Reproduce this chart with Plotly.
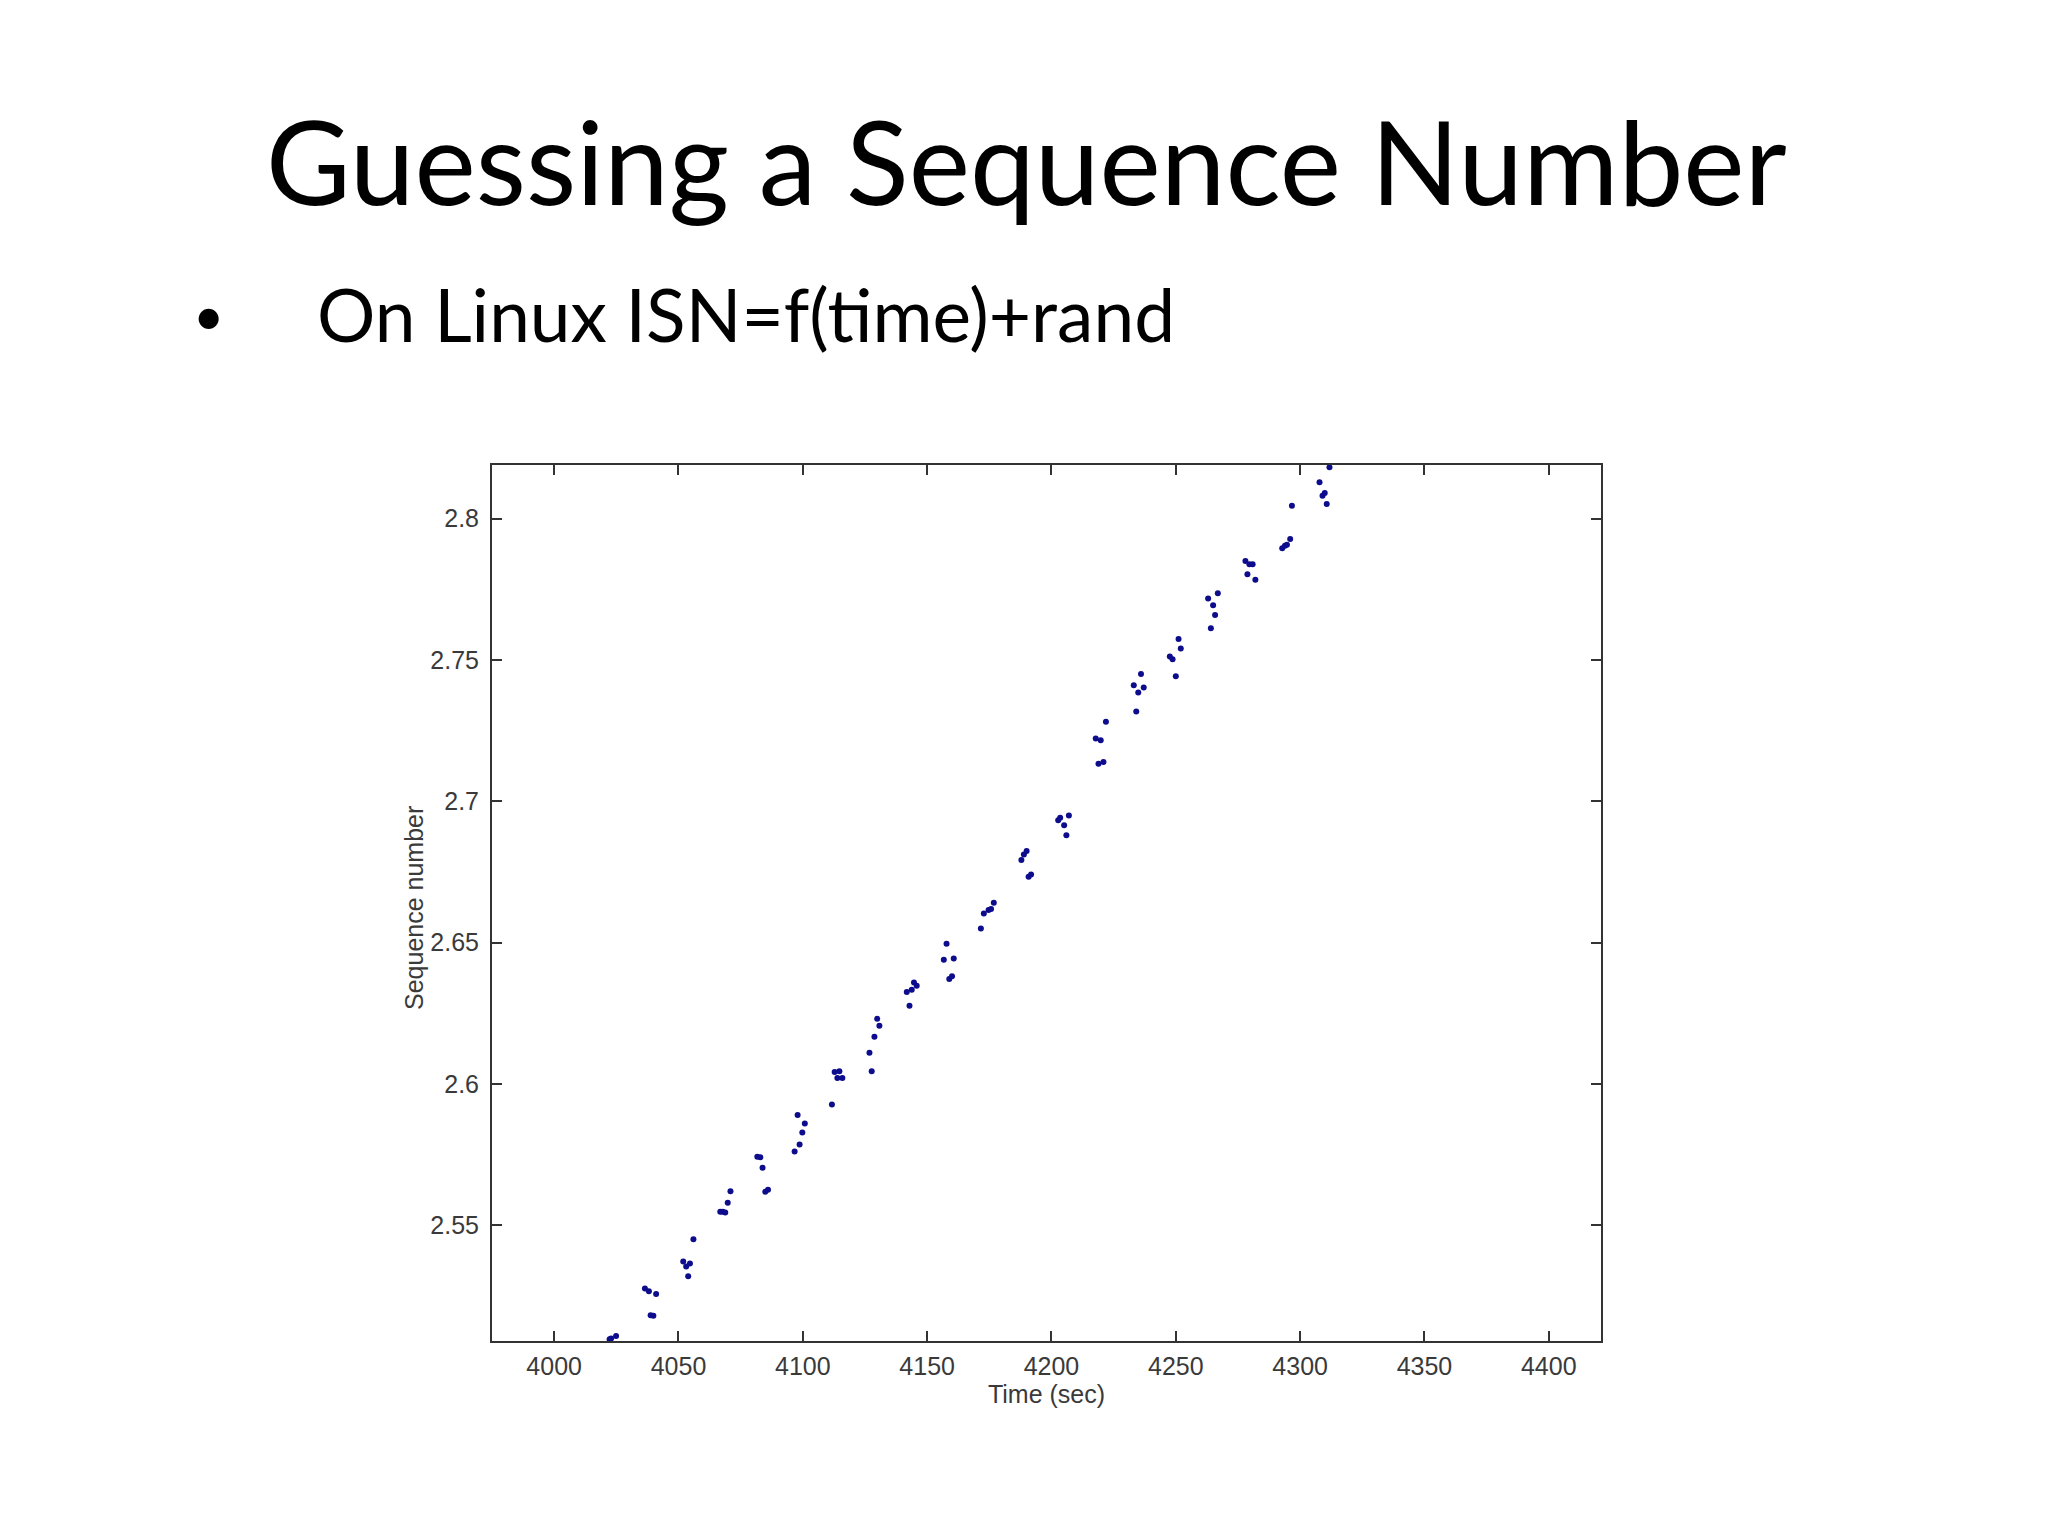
import plotly.graph_objects as go

time_sec = [4022.3, 4022.9, 4024.9,
            4036.5, 4038.1, 4041.0, 4038.8, 4039.9,
            4051.9, 4053.1, 4054.6, 4053.9, 4056.0,
            4066.8, 4067.8, 4068.8, 4069.8, 4070.9,
            4081.7, 4082.9, 4083.8, 4084.9, 4086.0,
            4096.7, 4098.7, 4099.8, 4100.8, 4097.9,
            4111.7, 4112.8, 4114.7, 4113.9, 4115.9,
            4126.8, 4127.7, 4128.8, 4129.9, 4130.8,
            4141.8, 4142.9, 4143.8, 4144.7, 4145.8,
            4156.7, 4157.8, 4160.7, 4158.9, 4160.0,
            4171.6, 4172.8, 4174.7, 4175.7, 4176.8,
            4187.9, 4188.9, 4190.0, 4190.8, 4191.8,
            4202.7, 4203.5, 4205.1, 4207.0, 4206.0,
            4217.8, 4219.8, 4221.9, 4218.9, 4220.9,
            4233.1, 4234.1, 4234.9, 4236.0, 4237.1,
            4247.6, 4248.7, 4250.0, 4251.1, 4252.0,
            4263.0, 4264.1, 4265.0, 4265.8, 4266.9,
            4278.0, 4279.6, 4280.9, 4278.8, 4282.0,
            4292.8, 4293.9, 4294.7, 4296.0, 4296.7,
            4307.8, 4309.0, 4309.9, 4310.7, 4311.8]

seq_num = [2.5096, 2.5099, 2.5108,
           2.5276, 2.5266, 2.5256, 2.5181, 2.5179,
           2.5371, 2.5354, 2.5364, 2.5319, 2.5450,
           2.5547, 2.5547, 2.5545, 2.5579, 2.5620,
           2.5742, 2.5740, 2.5703, 2.5618, 2.5625,
           2.5761, 2.5785, 2.5828, 2.5860, 2.5890,
           2.5927, 2.6042, 2.6045, 2.6021, 2.6021,
           2.6110, 2.6045, 2.6167, 2.6230, 2.6206,
           2.6325, 2.6276, 2.6333, 2.6359, 2.6347,
           2.6439, 2.6496, 2.6444, 2.6371, 2.6381,
           2.6550, 2.6603, 2.6615, 2.6619, 2.6641,
           2.6792, 2.6812, 2.6824, 2.6733, 2.6741,
           2.6933, 2.6942, 2.6915, 2.6950, 2.6880,
           2.7222, 2.7216, 2.7281, 2.7133, 2.7139,
           2.7411, 2.7318, 2.7385, 2.7450, 2.7403,
           2.7512, 2.7503, 2.7442, 2.7574, 2.7541,
           2.7718, 2.7612, 2.7694, 2.7659, 2.7736,
           2.7850, 2.7839, 2.7839, 2.7803, 2.7784,
           2.7895, 2.7904, 2.7908, 2.7928, 2.8046,
           2.8129, 2.8081, 2.8091, 2.8052, 2.8182]

x_ticks = [4000, 4050, 4100, 4150, 4200, 4250, 4300, 4350, 4400]
y_ticks = [2.55, 2.6, 2.65, 2.7, 2.75, 2.8]
y_tick_labels = ["2.55", "2.6", "2.65", "2.7", "2.75", "2.8"]

title_text = "Guessing a Sequence Number"
bullet_text = "On Linux ISN=f(time)+rand"
x_title = "Time (sec)"
y_title = "Sequence number"

W, H = 2048, 1536
fig = go.Figure()
fig.add_trace(go.Scatter(
    x=time_sec, y=seq_num, mode="markers",
    marker=dict(size=6, color="#0c0c8c", line=dict(width=0)),
    showlegend=False, cliponaxis=True,
))

axis_common = dict(
    showline=True, linecolor="#333333", linewidth=2, mirror="ticks",
    ticks="inside", ticklen=10, tickwidth=1.5, tickcolor="#333333",
    showgrid=False, zeroline=False,
    tickfont=dict(family="Liberation Sans, Arial", size=25, color="#3a3a3a"),
)

fig.update_layout(
    width=W, height=H,
    margin=dict(l=0, r=0, t=0, b=0),
    paper_bgcolor="white", plot_bgcolor="white",
    xaxis=dict(domain=[484/W, 1593/W], range=[3975, 4421],
               tickvals=x_ticks, ticklabelstandoff=2,
               title=dict(text=x_title, standoff=6,
                          font=dict(family="Liberation Sans, Arial", size=25, color="#3a3a3a")),
               **axis_common),
    yaxis=dict(domain=[1 - 1333/H, 1 - 457/H], range=[2.509, 2.819],
               tickvals=y_ticks, ticktext=y_tick_labels, ticklabelstandoff=6,
               **axis_common),
    annotations=[
        dict(text=title_text, x=1018/W, y=1 - 152/H, xref="paper", yref="paper",
             xanchor="center", yanchor="middle", showarrow=False,
             font=dict(family="Lato, Open Sans", size=116, color="black")),
        dict(text="•", x=200/W, y=1 - 307/H, xref="paper", yref="paper",
             xanchor="center", yanchor="middle", showarrow=False,
             font=dict(family="Lato, Open Sans", size=54, color="black")),
        dict(text=bullet_text, x=307/W, y=1 - 306/H, xref="paper", yref="paper",
             xanchor="left", yanchor="middle", showarrow=False,
             font=dict(family="Lato, Open Sans", size=73, color="black")),
        dict(text=y_title, x=406/W, y=1 - 900/H, xref="paper", yref="paper",
             xanchor="center", yanchor="middle", showarrow=False, textangle=-90,
             font=dict(family="Liberation Sans, Arial", size=25, color="#3a3a3a")),
    ],
)

fig.write_html("out.html")
